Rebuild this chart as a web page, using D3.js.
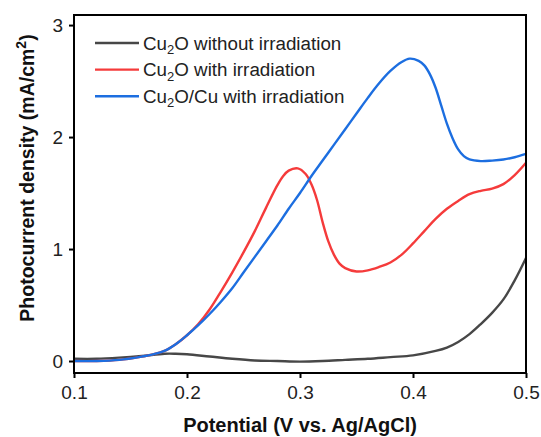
<!DOCTYPE html>
<html>
<head>
<meta charset="utf-8">
<script src="https://cdn.jsdelivr.net/npm/d3@7"></script>
<style>
  body { margin: 0; background: #fff; }
  svg { font-family: "Liberation Sans", Arial, sans-serif; }
</style>
</head>
<body>
<div id="chart"></div>
<script>
// potential (V vs. Ag/AgCl) and photocurrent density (mA/cm2)
const darkX = [0.10, 0.12, 0.14, 0.16, 0.18, 0.19, 0.20, 0.22, 0.24, 0.26, 0.28, 0.30, 0.32, 0.34, 0.36, 0.38, 0.40, 0.42, 0.43, 0.44, 0.45, 0.46, 0.47, 0.48, 0.49, 0.50];
const darkY = [0.02, 0.02, 0.03, 0.045, 0.065, 0.065, 0.06, 0.04, 0.02, 0.005, 0.0, -0.005, 0.0, 0.01, 0.02, 0.035, 0.05, 0.09, 0.12, 0.17, 0.24, 0.33, 0.43, 0.55, 0.72, 0.92];

const lightX = [0.10, 0.12, 0.14, 0.16, 0.17, 0.18, 0.19, 0.20, 0.21, 0.22, 0.23, 0.24, 0.25, 0.26, 0.27, 0.28, 0.285, 0.29, 0.298, 0.305, 0.31, 0.315, 0.32, 0.325, 0.33, 0.335, 0.34, 0.35, 0.36, 0.37, 0.38, 0.39, 0.40, 0.41, 0.42, 0.43, 0.44, 0.45, 0.46, 0.47, 0.48, 0.49, 0.50];
const lightY = [0.0, 0.0, 0.01, 0.04, 0.06, 0.09, 0.15, 0.23, 0.33, 0.46, 0.62, 0.79, 0.97, 1.16, 1.37, 1.57, 1.65, 1.70, 1.72, 1.67, 1.58, 1.44, 1.24, 1.07, 0.95, 0.87, 0.83, 0.80, 0.81, 0.84, 0.88, 0.95, 1.05, 1.16, 1.27, 1.36, 1.43, 1.49, 1.52, 1.54, 1.58, 1.66, 1.77];

const cuX = [0.10, 0.12, 0.14, 0.16, 0.17, 0.18, 0.19, 0.20, 0.21, 0.22, 0.23, 0.24, 0.25, 0.26, 0.27, 0.28, 0.29, 0.30, 0.31, 0.32, 0.33, 0.34, 0.35, 0.36, 0.37, 0.38, 0.39, 0.397, 0.405, 0.41, 0.415, 0.42, 0.425, 0.43, 0.435, 0.44, 0.445, 0.45, 0.46, 0.47, 0.48, 0.49, 0.50];
const cuY = [0.0, 0.0, 0.01, 0.04, 0.06, 0.09, 0.15, 0.23, 0.32, 0.42, 0.53, 0.65, 0.79, 0.93, 1.07, 1.21, 1.36, 1.50, 1.65, 1.79, 1.93, 2.07, 2.21, 2.35, 2.48, 2.59, 2.67, 2.70, 2.68, 2.64, 2.56, 2.44, 2.28, 2.12, 1.99, 1.89, 1.83, 1.80, 1.785, 1.79, 1.80, 1.82, 1.85];

const xTicks = [0.1, 0.2, 0.3, 0.4, 0.5];
const yTicks = [0, 1, 2, 3];

const series = [
  { name: "without", xs: darkX, ys: darkY, color: "#474747" },
  { name: "with", xs: lightX, ys: lightY, color: "#f53b3b" },
  { name: "cu", xs: cuX, ys: cuY, color: "#1c6ee0" }
];

const W = 541, H = 437;
const margin = { top: 15, right: 15, bottom: 64, left: 74 };
const width = W - margin.left - margin.right;
const height = H - margin.top - margin.bottom;

const svg = d3.select("#chart").append("svg")
    .attr("width", W).attr("height", H);
const g = svg.append("g").attr("transform", "translate(" + margin.left + "," + margin.top + ")");

const x = d3.scaleLinear().domain([0.1, 0.5]).range([0, width]);
const y = d3.scaleLinear().domain([-0.107, 3.09]).range([height, 0]);

const line = d3.line()
    .x(d => x(d[0])).y(d => y(d[1]))
    .curve(d3.curveCatmullRom.alpha(0.5));

series.forEach(function(s) {
  const pts = s.xs.map((v, i) => [v, s.ys[i]]);
  g.append("path").datum(pts)
      .attr("fill", "none")
      .attr("stroke", s.color)
      .attr("stroke-width", 2.4)
      .attr("d", line);
});

// frame
g.append("rect").attr("width", width).attr("height", height)
    .attr("fill", "none").attr("stroke", "#000").attr("stroke-width", 2);

const xAxis = g.append("g").attr("transform", "translate(0," + height + ")")
    .call(d3.axisBottom(x).tickValues(xTicks).tickSize(5).tickPadding(8).tickFormat(d3.format(".1f")));
const yAxis = g.append("g")
    .call(d3.axisLeft(y).tickValues(yTicks).tickSize(5).tickPadding(6).tickFormat(d3.format("d")));
[xAxis, yAxis].forEach(function(a) {
  a.select(".domain").remove();
  a.selectAll(".tick line").attr("stroke", "#000").attr("stroke-width", 2);
  a.selectAll(".tick text").attr("fill", "#222").style("font-size", "19px")
      .style("font-family", "'Liberation Sans', Arial, sans-serif");
});

// axis titles
svg.append("text")
    .attr("x", margin.left + width / 2).attr("y", 432)
    .attr("text-anchor", "middle")
    .style("font-size", "20px").style("font-weight", "bold").attr("fill", "#111")
    .text("Potential (V vs. Ag/AgCl)");

const yt = svg.append("text")
    .attr("transform", "translate(34,178) rotate(-90)")
    .attr("text-anchor", "middle")
    .style("font-size", "19.5px").style("font-weight", "bold").attr("fill", "#111");
yt.append("tspan").text("Photocurrent density (mA/cm");
yt.append("tspan").attr("dy", -8).style("font-size", "14px").text("2");
yt.append("tspan").attr("dy", 8).text(")");

// legend
const legend = [
  { pre: "Cu", post: "O without irradiation", color: series[0].color },
  { pre: "Cu", post: "O with irradiation", color: series[1].color },
  { pre: "Cu", post: "O/Cu with irradiation", color: series[2].color }
];
const lg = svg.append("g");
legend.forEach(function(d, i) {
  const yy = 43 + i * 26.6;
  lg.append("line").attr("x1", 95).attr("x2", 139).attr("y1", yy).attr("y2", yy)
      .attr("stroke", d.color).attr("stroke-width", 2.4);
  const t = lg.append("text").attr("x", 143).attr("y", yy + 6.5)
      .style("font-size", "18.8px").attr("fill", "#222");
  t.append("tspan").text(d.pre);
  t.append("tspan").attr("dy", 4.5).style("font-size", "13px").text("2");
  t.append("tspan").attr("dy", -4.5).text(d.post);
});
</script>
</body>
</html>
